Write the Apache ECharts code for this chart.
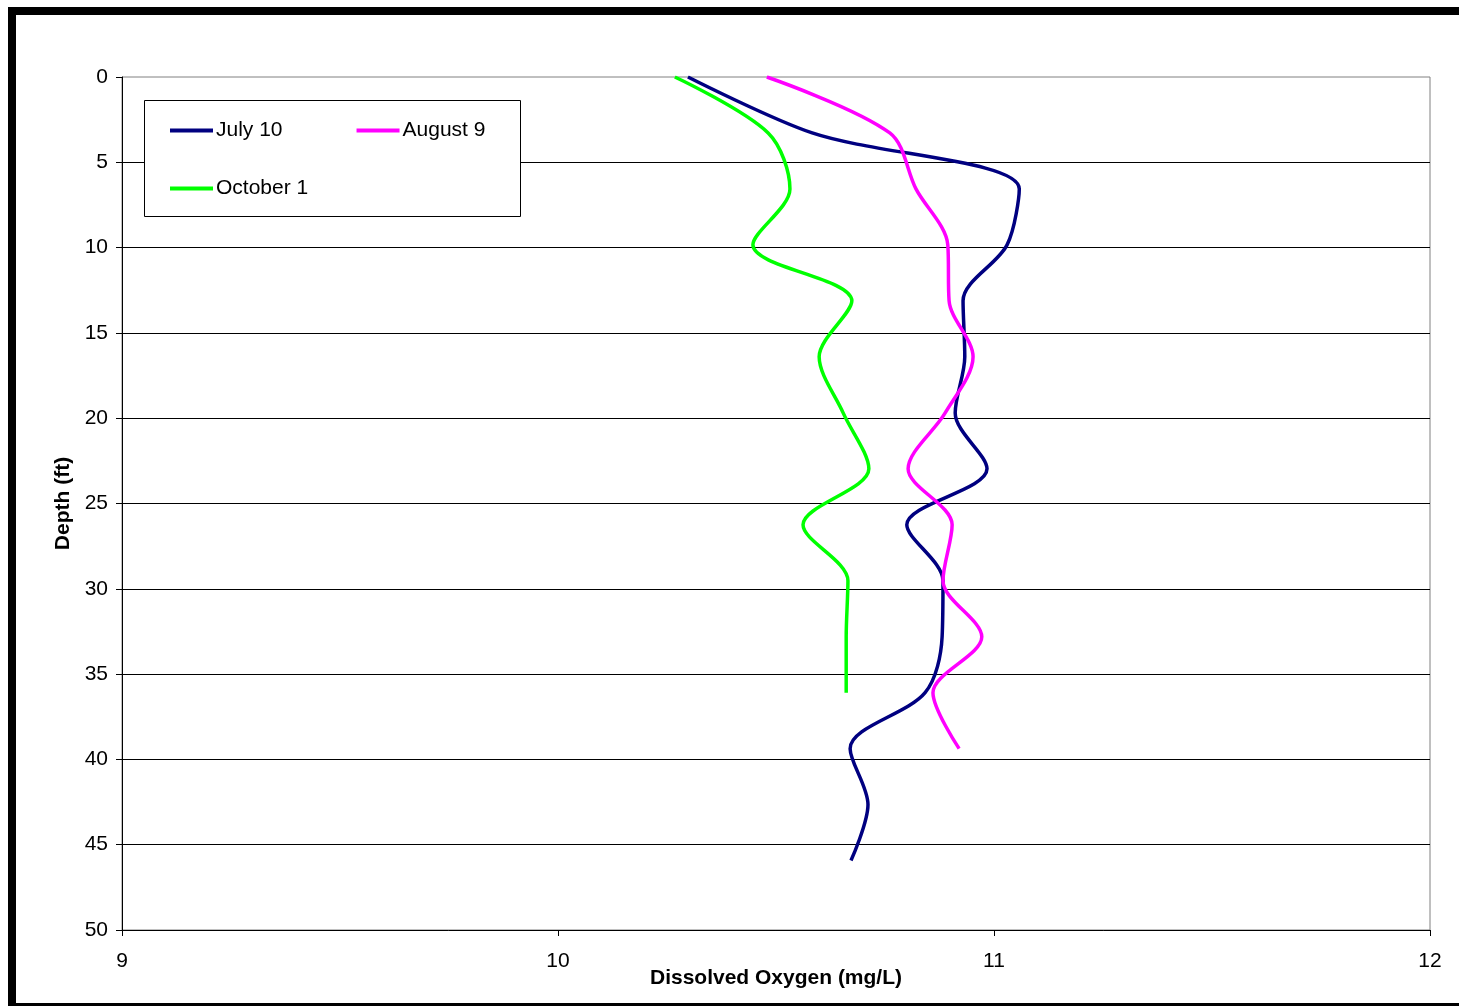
<!DOCTYPE html>
<html>
<head>
<meta charset="utf-8">
<script src="https://cdn.jsdelivr.net/npm/echarts@6/dist/echarts.min.js"></script>
<style>
html,body{margin:0;padding:0;background:#fff;}
#chart{width:1459px;height:1006px;}
</style>
</head>
<body>
<div id="chart"></div>
<script>
// Depth in feet (1 m steps)
const depths = [0, 3.28, 6.56, 9.84, 13.12, 16.40, 19.69, 22.97, 26.25, 29.53, 32.81, 36.09, 39.37, 42.65, 45.93];
const seriesNames = ['July 10', 'August 9', 'October 1'];
const july10 = [10.298, 10.583, 11.058, 11.030, 10.929, 10.933, 10.911, 10.984, 10.800, 10.883, 10.881, 10.842, 10.670, 10.711, 10.672];
const august9 = [10.479, 10.761, 10.821, 10.894, 10.897, 10.952, 10.888, 10.803, 10.904, 10.883, 10.972, 10.860, 10.920];
const october1 = [10.268, 10.482, 10.532, 10.447, 10.674, 10.599, 10.654, 10.713, 10.562, 10.665, 10.661, 10.661];
const xTicks = [9, 10, 11, 12];
const yTicks = [0, 5, 10, 15, 20, 25, 30, 35, 40, 45, 50];

const colors = ['#000080', '#FF00FF', '#00FF00'];
const FONT = "'Liberation Sans', Arial, sans-serif";
const FS = 21;

function pairs(vals) { return vals.map((v, i) => [v, depths[i]]); }

const chart = echarts.init(document.getElementById('chart'), null, {renderer: 'canvas'});
chart.setOption({
  animation: false,
  backgroundColor: '#ffffff',
  textStyle: {fontFamily: FONT},
  grid: {left: 122, right: 29, top: 77, bottom: 76, show: true, borderColor: '#808080', borderWidth: 1, backgroundColor: 'transparent'},
  xAxis: {
    type: 'value', min: xTicks[0], max: xTicks[xTicks.length - 1], interval: 1,
    name: 'Dissolved Oxygen (mg/L)', nameLocation: 'middle', nameGap: 38, nameMoveOverlap: false,
    nameTextStyle: {fontFamily: FONT, fontSize: FS, fontWeight: 'bold', color: '#000'},
    axisLine: {show: true, onZero: false, lineStyle: {color: '#000', width: 1}},
    axisTick: {show: true, length: 6, lineStyle: {color: '#000'}},
    axisLabel: {fontFamily: FONT, fontSize: FS, color: '#000', margin: 21},
    splitLine: {show: false}
  },
  yAxis: {
    type: 'value', inverse: true, min: yTicks[0], max: yTicks[yTicks.length - 1], interval: 5,
    name: 'Depth (ft)', nameLocation: 'middle', nameGap: 48, nameMoveOverlap: false,
    nameTextStyle: {fontFamily: FONT, fontSize: FS, fontWeight: 'bold', color: '#000'},
    axisLine: {show: true, onZero: false, lineStyle: {color: '#000', width: 1}},
    axisTick: {show: true, length: 6, lineStyle: {color: '#000'}},
    axisLabel: {fontFamily: FONT, fontSize: FS, color: '#000', margin: 14},
    splitLine: {show: true, showMinLine: false, showMaxLine: false, lineStyle: {color: '#000', width: 1}}
  },
  legend: [
    {data: [seriesNames[0], seriesNames[1]], left: 165, top: 115, z: 30, icon: 'rect', itemWidth: 43, itemHeight: 4, itemGap: 74,
     textStyle: {fontFamily: FONT, fontSize: FS, color: '#000', padding: [0, 0, 0, -2]}, selectedMode: false},
    {data: [seriesNames[2]], left: 165, top: 173, z: 30, icon: 'rect', itemWidth: 43, itemHeight: 4,
     textStyle: {fontFamily: FONT, fontSize: FS, color: '#000', padding: [0, 0, 0, -2]}, selectedMode: false}
  ],
  graphic: [
    {type: 'rect', z: 20, shape: {x: 144.5, y: 100.5, width: 376, height: 116}, style: {fill: '#fff', stroke: '#000', lineWidth: 1}},
    {type: 'rect', z: 50, shape: {x: 12, y: 11, width: 1480, height: 996}, style: {fill: 'none', stroke: '#000', lineWidth: 8}}
  ],
  series: [
    {name: seriesNames[0], type: 'line', data: pairs(july10), smooth: 0.32, showSymbol: false, color: colors[0], lineStyle: {width: 3.5, color: colors[0]}},
    {name: seriesNames[1], type: 'line', data: pairs(august9), smooth: 0.32, showSymbol: false, color: colors[1], lineStyle: {width: 3.5, color: colors[1]}},
    {name: seriesNames[2], type: 'line', data: pairs(october1), smooth: 0.32, showSymbol: false, color: colors[2], lineStyle: {width: 3.5, color: colors[2]}}
  ]
});
</script>
</body>
</html>
